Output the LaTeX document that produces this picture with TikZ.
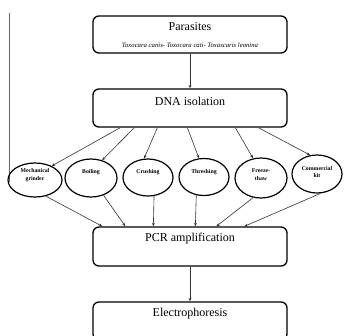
\documentclass[tikz,border=0pt]{standalone}
\usepackage{fontspec}
\setmainfont{Liberation Serif}
\usetikzlibrary{shapes.geometric,arrows.meta}
\begin{document}
\begin{tikzpicture}[x=1pt,y=-1pt,
  stepbox/.style={draw=black,line width=1.3pt,rounded corners=6pt,minimum width=194pt,inner sep=0pt},
  oval/.style={draw=black,line width=1.2pt,ellipse,inner sep=0pt},
  boxlabel/.style={font=\rmfamily\fontsize{12}{14}\selectfont,inner sep=0pt},
  species/.style={font=\rmfamily\fontsize{6.7}{8}\selectfont\itshape,inner sep=0pt},
  otext/.style={font=\rmfamily\fontsize{5.8}{7.5}\selectfont\bfseries,align=center,inner sep=0pt},
  conn/.style={-{Stealth[length=3.5pt,width=2.8pt]},line width=0.6pt,draw=black!80}]
\useasboundingbox (0,0) rectangle (344,335);
\clip (0,0) rectangle (344,335);
% left edge line
\draw[line width=0.9pt,black!60] (9,13) -- (9,182);
% boxes
\node[stepbox,minimum height=37pt] (par) at (190,34.5) {};
\node[boxlabel] (parT) at (190,27) {Parasites};
\node[species] (parS) at (190,45) {Toxocara canis- Toxocara cati- Toxascaris leonina};
\node[stepbox,minimum height=38pt] (dna) at (190,108) {};
\node[boxlabel] (dnaT) at (190,101) {DNA isolation};
\node[stepbox,minimum height=39pt] (pcr) at (190,246.5) {};
\node[boxlabel] (pcrT) at (190,239) {PCR amplification};
\node[stepbox,minimum height=38pt] (ele) at (190,321) {};
\node[boxlabel] (eleT) at (190,314) {Electrophoresis};
% ellipses
\node[oval,minimum width=54pt,minimum height=34pt] (e1) at (35,180) {};
\node[oval,minimum width=52pt,minimum height=38pt] (e2) at (91,178) {};
\node[oval,minimum width=50pt,minimum height=37pt] (e3) at (148,177.5) {};
\node[oval,minimum width=50pt,minimum height=37pt] (e4) at (204,177) {};
\node[oval,minimum width=52pt,minimum height=40pt] (e5) at (261,178) {};
\node[oval,minimum width=50pt,minimum height=38pt] (e6) at (317,174) {};
\node[otext] (t1) at (35,175) {Mechanical\\grinder};
\node[otext] (t2) at (91,172) {Boiling};
\node[otext] (t3) at (148,172) {Crushing};
\node[otext] (t4) at (204,172) {Threshing};
\node[otext] (t5) at (261,174.5) {Freeze-\\thaw};
\node[otext] (t6) at (317,172) {Commercial\\kit};
% connectors
\draw[conn] (par.south) -- (dna.north);
\draw[conn] (pcr.south) -- (ele.north);
\draw[conn] ([xshift=28pt]dna.south west) -- (e1.40);
\draw[conn] ([xshift=42pt]dna.south west) -- (e2.58);
\draw[conn] ([xshift=65pt]dna.south west) -- (e3.102);
\draw[conn] ([xshift=95pt]dna.south west) -- (e4.105);
\draw[conn] ([xshift=143pt]dna.south west) -- (e5.112);
\draw[conn] ([xshift=166pt]dna.south west) -- (e6.110);
\draw[conn] (e1.-56) -- ([xshift=10pt]pcr.north west);
\draw[conn] (e2.-54) -- ([xshift=33pt]pcr.north west);
\draw[conn] (e3.-72) -- ([xshift=61pt]pcr.north west);
\draw[conn] (e4.-113) -- ([xshift=103pt]pcr.north west);
\draw[conn] (e5.-112) -- ([xshift=124pt]pcr.north west);
\draw[conn] (e6.-80) -- ([xshift=152pt]pcr.north west);
\end{tikzpicture}
\end{document}
